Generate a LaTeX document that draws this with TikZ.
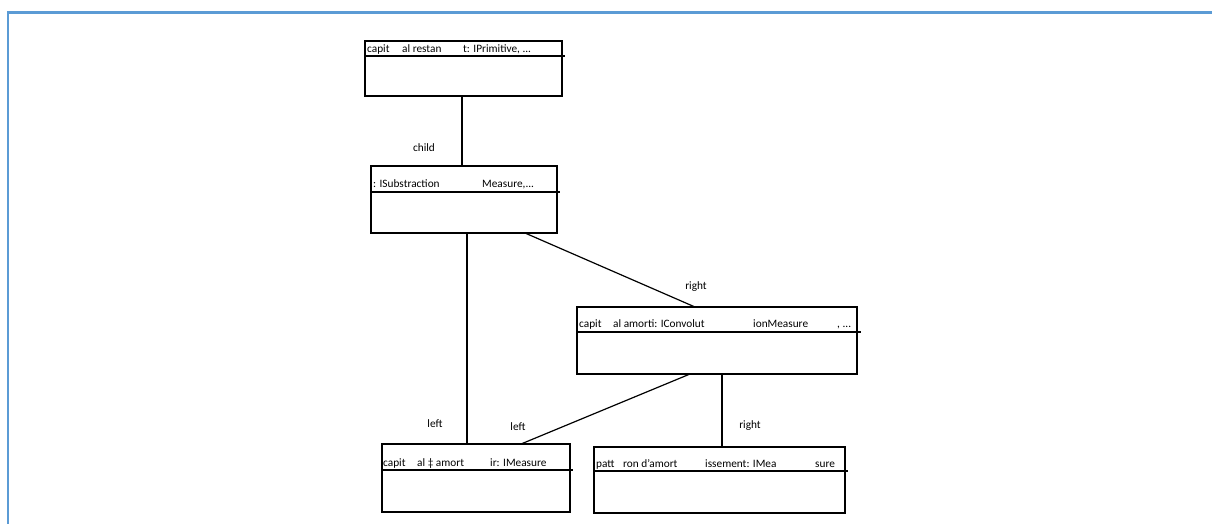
\documentclass[tikz,border=0pt]{standalone}
\usepackage{fontspec}
\setmainfont{Carlito}
\definecolor{framecol}{HTML}{5B9BD5}
\begin{document}
\begin{tikzpicture}[x=1pt,y=-1pt,
  umlbox/.style={draw=black, line width=1.2pt, rectangle, inner sep=0pt, outer sep=0pt, anchor=north west},
  hdr/.style={draw=black, line width=1.2pt},
  conn/.style={draw=black, line width=1.2pt},
  htext/.style={anchor=base west, inner sep=0pt, font=\fontsize{11.3}{13}\selectfont},
  lbl/.style={inner sep=0pt, font=\fontsize{11.3}{13}\selectfont}]
\useasboundingbox (0,0) rectangle (1212,523);
\draw[framecol, line width=2.5pt] (1214,12.5) -- (8,12.5) -- (8,526);
% boxes
\node[umlbox, minimum width=197pt, minimum height=55pt] (b1) at (365,41) {};
\node[umlbox, minimum width=186pt, minimum height=67pt] (b2) at (371,166) {};
\node[umlbox, minimum width=280pt, minimum height=67pt] (b3) at (577,307) {};
\node[umlbox, minimum width=188pt, minimum height=68pt] (b4) at (382,444) {};
\node[umlbox, minimum width=251pt, minimum height=66pt] (b5) at (594,447) {};
% header lines
\draw[hdr] (b1.west |- 0,56) -- (565,56);
\draw[hdr] (b2.west |- 0,192) -- (560,192);
\draw[hdr] (b3.west |- 0,332) -- (861,332);
\draw[hdr] (b4.west |- 0,470) -- (573,470);
\draw[hdr] (b5.west |- 0,471) -- (848,471);
% header texts
\node[htext] (t1a) at (367,52) {capit};
\node[htext] (t1b) at (402,52) {al restan};
\node[htext] (t1c) at (463,52) {t: IPrimitive, ...};
\node[htext] (t2a) at (373,187) {: ISubstraction};
\node[htext] (t2b) at (482,187) {Measure,...};
\node[htext] (t3a) at (579,327) {capit};
\node[htext] (t3b) at (613,327) {al amorti: IConvolut};
\node[htext] (t3c) at (753,327) {ionMeasure};
\node[htext] (t3d) at (837,327) {, ...};
\node[htext] (t4a) at (383,466) {capit};
\node[htext] (t4b) at (417,466) {al ‡ amort};
\node[htext] (t4c) at (490,466) {ir: IMeasure};
\node[htext] (t5a) at (596,467) {patt};
\node[htext] (t5b) at (623,467) {ron d'amort};
\node[htext] (t5c) at (705,467) {issement: IMea};
\node[htext] (t5d) at (815,467) {sure};
% connectors
\draw[conn] (b1.south -| 462,0) -- (b2.north -| 462,0);
\draw[conn] (b2.south -| 467,0) -- (b4.north -| 467,0);
\draw[conn] (b2.south -| 525,0) -- (b3.north -| 695,0);
\draw[conn] (b3.south -| 690,0) -- (b4.north -| 521,0);
\draw[conn] (b3.south -| 722,0) -- (b5.north -| 722,0);
% labels
\node[lbl] (lchild) at (424,148) {child};
\node[lbl] (lright1) at (696,287) {right};
\node[lbl] (lleft1) at (435,424) {left};
\node[lbl] (lleft2) at (518,427) {left};
\node[lbl] (lright2) at (750,426) {right};
\end{tikzpicture}
\end{document}
